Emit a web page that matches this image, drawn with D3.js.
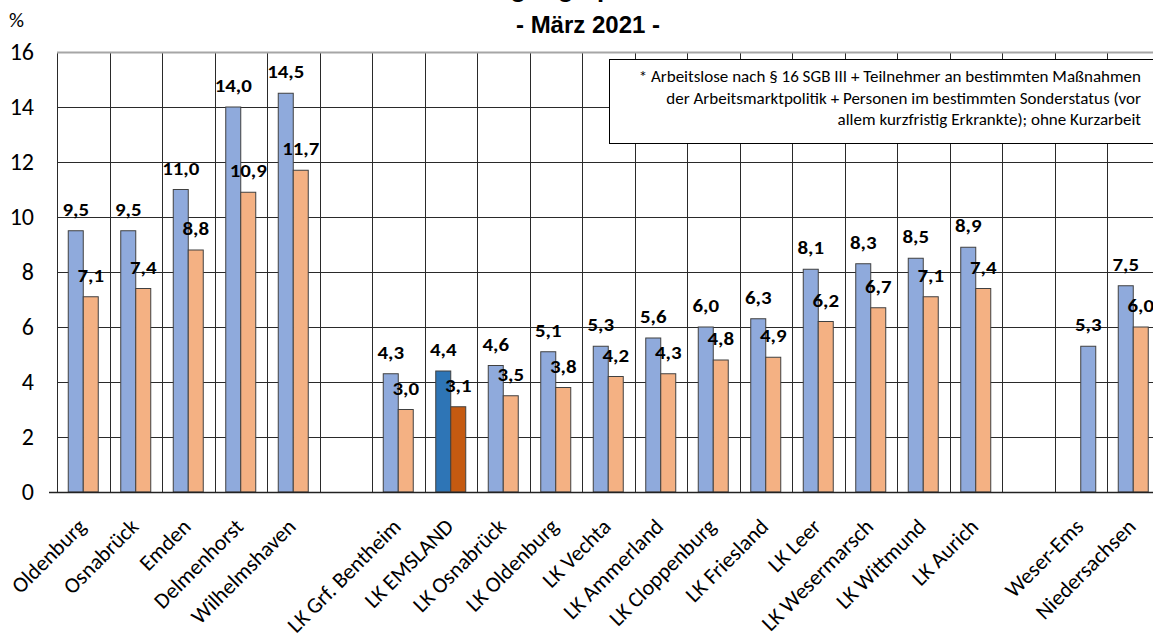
<!DOCTYPE html>
<html>
<head>
<meta charset="utf-8">
<script src="https://cdn.jsdelivr.net/npm/d3@7"></script>
<style>
  body { margin: 0; background: #fff; }
  svg { display: block; }
</style>
</head>
<body>
<svg id="chart"></svg>
<script>
// categories ("" = empty slot)
const categories = ["Oldenburg", "Osnabrück", "Emden", "Delmenhorst", "Wilhelmshaven", "",
  "LK Grf. Bentheim", "LK EMSLAND", "LK Osnabrück", "LK Oldenburg", "LK Vechta", "LK Ammerland",
  "LK Cloppenburg", "LK Friesland", "LK Leer", "LK Wesermarsch", "LK Wittmund", "LK Aurich", "",
  "Weser-Ems", "Niedersachsen"];

// Unterbeschäftigungsquote (blue) and Arbeitslosenquote (orange)
const seriesA = [9.5, 9.5, 11.0, 14.0, 14.5, null, 4.3, 4.4, 4.6, 5.1, 5.3, 5.6, 6.0, 6.3, 8.1, 8.3, 8.5, 8.9, null, null, 7.5];
const seriesB = [7.1, 7.4, 8.8, 10.9, 11.7, null, 3.0, 3.1, 3.5, 3.8, 4.2, 4.3, 4.8, 4.9, 6.2, 6.7, 7.1, 7.4, null, null, 6.0];
// Weser-Ems is drawn in the second bar position, in blue
const seriesC = [null, null, null, null, null, null, null, null, null, null, null, null, null, null, null, null, null, null, null, 5.3, null];

const yTicks = [0, 2, 4, 6, 8, 10, 12, 14, 16];
const noteLines = [
  "* Arbeitslose nach § 16 SGB III + Teilnehmer an bestimmten Maßnahmen",
  "der Arbeitsmarktpolitik + Personen im bestimmten Sonderstatus (vor",
  "allem kurzfristig Erkrankte); ohne Kurzarbeit"
];
const highlight = "LK EMSLAND";

const width = 1153, height = 640;
const plotLeft = 57, plotTop = 52, plotBottom = 492;
const slot = 52.5;

const sans = "Carlito, Lato, 'Open Sans', sans-serif";
const narrow = "'Liberation Sans Narrow', 'Arial Narrow', 'Liberation Sans', sans-serif";

const svg = d3.select("#chart").attr("width", width).attr("height", height);

const x = d3.scaleBand()
  .domain(d3.range(categories.length))
  .range([plotLeft, plotLeft + slot * categories.length])
  .paddingInner(0).paddingOuter(0);

const x1 = d3.scaleBand()
  .domain(["a", "b"])
  .range([0, x.bandwidth()])
  .paddingInner(0).paddingOuter(0.75);

const y = d3.scaleLinear().domain([0, 16]).range([plotBottom, plotTop]);

// title (first line is cut off at the top edge, as in the source)
svg.append("text")
  .attr("x", 588).attr("y", -3)
  .attr("text-anchor", "middle")
  .attr("font-family", narrow).attr("font-weight", "bold").attr("font-size", 26)
  .text("Unterbeschäftigungsquote* in Weser-Ems");
svg.append("text")
  .attr("x", 588).attr("y", 33)
  .attr("text-anchor", "middle")
  .attr("font-family", narrow).attr("font-weight", "bold").attr("font-size", 24)
  .text("- März 2021 -");

svg.append("text")
  .attr("x", 9).attr("y", 27)
  .attr("font-family", sans).attr("font-size", 21)
  .text("%");

// grid
const grid = svg.append("g");
grid.selectAll("line.h")
  .data(yTicks.filter(d => d > 0 && d < 16))
  .join("line")
    .attr("x1", plotLeft).attr("x2", width)
    .attr("y1", d => Math.round(y(d)) + 0.5).attr("y2", d => Math.round(y(d)) + 0.5)
    .attr("stroke", "#2a2a2a").attr("stroke-width", 1);

grid.selectAll("line.v")
  .data(d3.range(categories.length + 1))
  .join("line")
    .attr("x1", d => Math.round(plotLeft + d * slot) + 0.5)
    .attr("x2", d => Math.round(plotLeft + d * slot) + 0.5)
    .attr("y1", plotTop).attr("y2", plotBottom)
    .attr("stroke", "#2a2a2a").attr("stroke-width", 1);

svg.append("line")
  .attr("x1", plotLeft).attr("x2", width)
  .attr("y1", plotTop + 0.5).attr("y2", plotTop + 0.5)
  .attr("stroke", "#a6a6a6").attr("stroke-width", 2);

// y axis labels
svg.append("g").selectAll("text")
  .data(yTicks)
  .join("text")
    .attr("x", 34).attr("y", d => y(d) + 8)
    .attr("text-anchor", "end")
    .attr("font-family", sans).attr("font-size", 24)
    .text(d => d);

// bars
const rows = categories.map((c, i) => ({ i, c, a: seriesA[i], b: seriesB[i], c2: seriesC[i] }));
const bars = [];
rows.forEach(r => {
  const hi = r.c === highlight;
  if (r.a != null) bars.push({ i: r.i, pos: "a", v: r.a, fill: hi ? "#2E75B6" : "#8FAADC" });
  if (r.b != null) bars.push({ i: r.i, pos: "b", v: r.b, fill: hi ? "#C55A11" : "#F4B183" });
  if (r.c2 != null) bars.push({ i: r.i, pos: "b", v: r.c2, fill: "#8FAADC" });
});

svg.append("g").selectAll("rect")
  .data(bars)
  .join("rect")
    .attr("x", d => x(d.i) + x1(d.pos))
    .attr("y", d => y(d.v))
    .attr("width", x1.bandwidth())
    .attr("height", d => plotBottom - y(d.v))
    .attr("fill", d => d.fill)
    .attr("stroke", "#404040").attr("stroke-width", 1);

// bottom axis line
svg.append("line")
  .attr("x1", 49).attr("x2", width)
  .attr("y1", plotBottom + 0.5).attr("y2", plotBottom + 0.5)
  .attr("stroke", "#222").attr("stroke-width", 1.5);

// note box
const note = svg.append("g");
note.append("rect")
  .attr("x", 609.5).attr("y", 59.5)
  .attr("width", 600).attr("height", 84)
  .attr("fill", "#fff").attr("stroke", "#000").attr("stroke-width", 1);
note.selectAll("text")
  .data(noteLines)
  .join("text")
    .attr("x", 1141).attr("y", (d, i) => 82 + i * 21.5)
    .attr("text-anchor", "end")
    .attr("font-family", sans).attr("font-size", 17)
    .text(d => d);

// value labels (slightly widened like the source)
svg.append("g").selectAll("text")
  .data(bars)
  .join("text")
    .attr("transform", d => `translate(${x(d.i) + x1(d.pos) + x1.bandwidth() / 2},${y(d.v) - 15}) scale(1.1,1)`)
    .attr("text-anchor", "middle")
    .attr("font-family", sans).attr("font-weight", "bold").attr("font-size", 19)
    .attr("fill", "#000")
    .text(d => d3.format(".1f")(d.v).replace(".", ","));

// category labels
svg.append("g").selectAll("text")
  .data(rows.filter(r => r.c !== ""))
  .join("text")
    .attr("transform", r => `translate(${x(r.i) + x.bandwidth() / 2 + 4},${plotBottom + 36}) rotate(-45)`)
    .attr("text-anchor", "end")
    .attr("font-family", sans).attr("font-size", 22)
    .text(r => r.c);
</script>
</body>
</html>
